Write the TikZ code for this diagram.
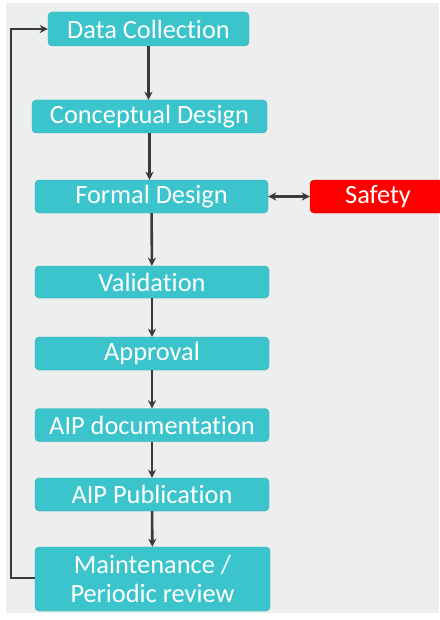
\documentclass[tikz,border=0pt]{standalone}
\usepackage{fontspec}
\setmainfont[Ligatures=NoCommon]{Carlito}
\usetikzlibrary{arrows.meta}

\definecolor{stage}{HTML}{3BC4CC}
\definecolor{alarm}{HTML}{FF0000}
\definecolor{flow}{HTML}{3A3A3A}
\definecolor{sheet}{HTML}{EDEEEE}

\tikzset{
	stagebox/.style={rectangle,rounded corners=3.5pt,fill=stage,draw=stage!85!black,line width=0.3pt,
		text=white,font=\fontsize{22.5}{24.5}\selectfont,align=center,inner sep=0pt},
	flowline/.style={draw=flow,line width=2.2pt,-{Stealth[length=7pt,width=7pt]}}
}

\begin{document}
\begin{tikzpicture}[x=0.03cm,y=-0.03cm]
	\useasboundingbox (0,0) rectangle (439,620);
	\fill[sheet] (6,3) rectangle (439,613);
	% the process, top to bottom
	\node[stagebox,minimum width=201*0.03cm,minimum height=34*0.03cm] (dc) at (148.5,29) {Data Collection};
	\node[stagebox,minimum width=235*0.03cm,minimum height=33*0.03cm] (cd) at (149.5,116.5) {Conceptual Design};
	\node[stagebox,minimum width=233*0.03cm,minimum height=33*0.03cm] (fd) at (151.5,196.5) {Formal Design};
	\node[stagebox,fill=alarm,draw=alarm!85!black,minimum width=136*0.03cm,minimum height=33*0.03cm] (safe) at (378,196.5) {Safety};
	\node[stagebox,minimum width=234*0.03cm,minimum height=32*0.03cm] (val) at (152,282) {Validation};
	\node[stagebox,minimum width=234*0.03cm,minimum height=33*0.03cm] (appr) at (152,353.5) {Approval};
	\node[stagebox,minimum width=234*0.03cm,minimum height=33*0.03cm] (doc) at (152,425) {AIP documentation};
	\node[stagebox,minimum width=234*0.03cm,minimum height=33*0.03cm] (pub) at (152,494.5) {AIP Publication};
	\node[stagebox,minimum width=235*0.03cm,minimum height=64*0.03cm] (maint) at (152.5,579) {Maintenance /\\Periodic review};
	% arrows
	\draw[flowline] (dc) -- (cd.north -| dc);
	\draw[flowline] (cd) -- (fd.north -| cd);
	\draw[flowline] (fd) -- (val);
	\draw[flowline] (val) -- (appr);
	\draw[flowline] (appr) -- (doc);
	\draw[flowline] (doc) -- (pub);
	\draw[flowline] (pub) -- (maint);
	\draw[flowline,{Stealth[length=7pt,width=7pt]}-{Stealth[length=7pt,width=7pt]}] (fd) -- (safe);
	% feedback loop back to the start
	\coordinate (back) at (11,578);
	\draw[flowline] (maint.west |- back) -- (back) |- (dc);
\end{tikzpicture}
\end{document}
